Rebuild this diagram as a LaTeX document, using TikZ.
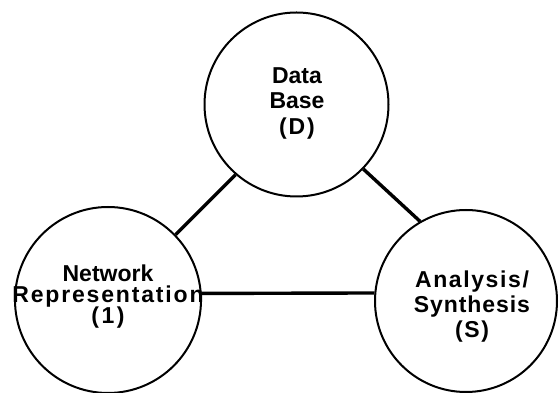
\documentclass[tikz,border=0pt]{standalone}
\usepackage{fontspec}
\setmainfont{Liberation Sans}
\newcommand{\trk}[2]{{\addfontfeature{LetterSpace=#1}#2}}
\newcommand{\tightlines}{\lineskiplimit=-30pt\relax}
\begin{document}
\begin{tikzpicture}[x=1pt,y=1pt,
  ring/.style={circle,draw,line width=2pt,inner sep=0pt},
  caption/.style={align=center,font=\fontsize{23}{25.5}\selectfont\bfseries},
  link/.style={line width=3.4pt}]
  \useasboundingbox (0,0) rectangle (560,393);
  % the three circles
  \node[ring,minimum size=184pt] (db)  at (296.5,288.5) {};
  \node[ring,minimum size=186pt] (net) at (108,93) {};
  \node[ring,minimum size=182pt] (syn) at (466,92) {};
  % their labels
  \node[caption] (dbt) at (297,290) {Data\\Base\\\trk{8}{(D)}};
  \node[caption,font=\fontsize{23}{21}\selectfont\bfseries\tightlines] (nett) at (108,96)
    {Network\\\trk{8}{Representation}\\\trk{11}{(1)}};
  \node[caption,font=\fontsize{23}{25}\selectfont\bfseries] (synt) at (472,86)
    {\trk{7}{Analysis/}\\\trk{4}{Synthesis}\\\trk{7}{(S)}};
  % connectors between the circles
  \draw[link] (db.229) -- (net.44);
  \draw[link] (db.-44.6) -- (syn.120.5);
  \draw[link] (net.4) -- (syn.175);
\end{tikzpicture}
\end{document}
